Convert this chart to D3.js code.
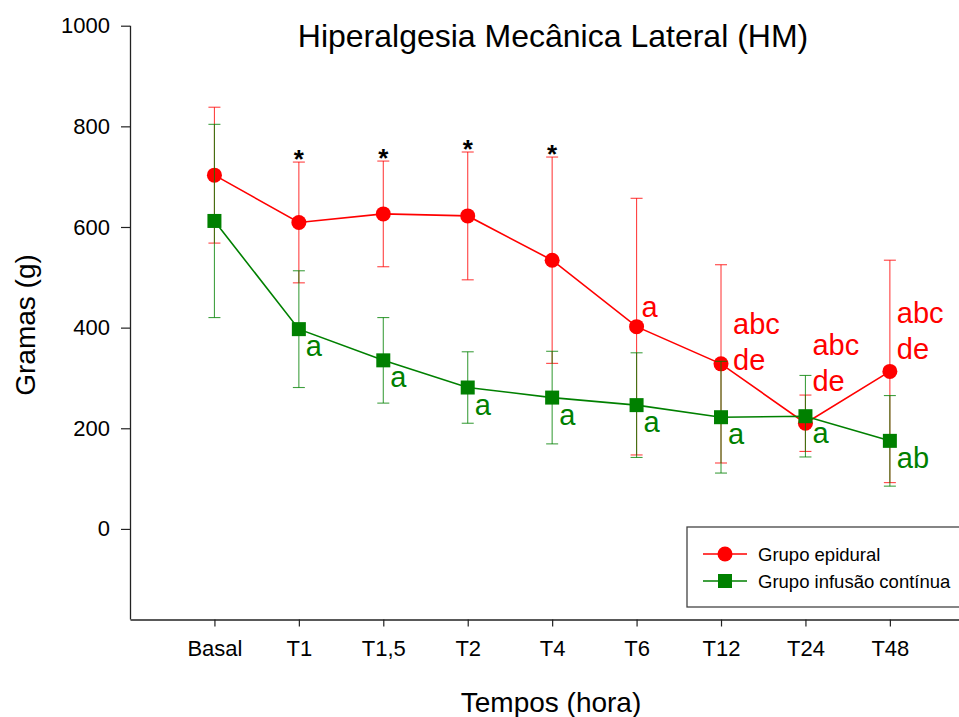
<!DOCTYPE html>
<html>
<head>
<meta charset="utf-8">
<script src="https://cdn.jsdelivr.net/npm/d3@7"></script>
<style>
  html, body { margin: 0; padding: 0; background: #fff; }
  svg { display: block; font-family: "Liberation Sans", Arial, sans-serif; }
</style>
</head>
<body>
<div id="chart"></div>
<script>
const categories = ["Basal", "T1", "T1,5", "T2", "T4", "T6", "T12", "T24", "T48"];
const epiduralMean = [703, 609, 626, 622, 534, 402, 328, 210, 313];
const epiduralSD = [135, 120, 105, 127, 205, 255, 197, 56, 221];
const infusaoMean = [612, 397, 335, 281, 261, 246, 222, 224, 175];
const infusaoSD = [192, 116, 85, 71, 92, 104, 111, 81, 90];
const starLabels = ["", "*", "*", "*", "*", "", "", "", ""];
const epiduralLetters = ["", "", "", "", "", ["a"], ["abc", "de"], ["abc", "de"], ["abc", "de"]];
const infusaoLetters = ["", "a", "a", "a", "a", "a", "a", "a", "ab"];
const yTicks = [0, 200, 400, 600, 800, 1000];

const width = 959;
const height = 717;
const marginLeft = 130;
const marginTop = 25.7;
const plotBottom = 619.5;
const step = 84.43;

const x = d3.scalePoint()
    .domain(categories)
    .range([marginLeft, marginLeft + step * (categories.length + 1)])
    .padding(1);

const y = d3.scaleLinear()
    .domain([-180, 1000])
    .range([plotBottom, marginTop]);

const svg = d3.select("#chart").append("svg")
    .attr("width", width)
    .attr("height", height)
    .attr("viewBox", [0, 0, width, height]);

// axes
svg.append("g")
    .attr("transform", `translate(${marginLeft},0)`)
    .call(d3.axisLeft(y).tickValues(yTicks).tickFormat(d3.format("d"))
        .tickSize(9).tickSizeOuter(0).tickPadding(11))
    .call(g => g.select(".domain").attr("stroke", "#222").attr("stroke-width", 1.3)
        .attr("d", `M0.5,${y(1000)}V${plotBottom}`))
    .call(g => g.selectAll(".tick line").attr("stroke", "#222").attr("stroke-width", 1.2))
    .call(g => g.selectAll(".tick text").attr("font-size", 22).attr("fill", "#000")
        .attr("font-family", "Liberation Sans, Arial, sans-serif"));

svg.append("g")
    .attr("transform", `translate(0,${plotBottom})`)
    .call(d3.axisBottom(x).tickSize(7).tickSizeOuter(0).tickPadding(14))
    .call(g => g.select(".domain").attr("stroke", "#222").attr("stroke-width", 1.3))
    .call(g => g.selectAll(".tick line").attr("stroke", "#222").attr("stroke-width", 1.2))
    .call(g => g.selectAll(".tick text").attr("font-size", 22).attr("fill", "#000")
        .attr("font-family", "Liberation Sans, Arial, sans-serif"));

// titles
svg.append("text")
    .attr("x", 553).attr("y", 47)
    .attr("text-anchor", "middle")
    .attr("font-size", 32)
    .text("Hiperalgesia Mecânica Lateral (HM)");

svg.append("text")
    .attr("x", 551).attr("y", 712)
    .attr("text-anchor", "middle")
    .attr("font-size", 28)
    .text("Tempos (hora)");

svg.append("text")
    .attr("transform", `translate(35,${325}) rotate(-90)`)
    .attr("text-anchor", "middle")
    .attr("font-size", 28)
    .text("Gramas (g)");

function drawSeries(means, sds, color, shape) {
    const data = categories.map((c, i) => ({ c, m: means[i], sd: sds[i] }));
    const g = svg.append("g");

    const eb = g.selectAll("g.eb").data(data).join("g")
        .attr("stroke", color)
        .attr("stroke-width", 1.1)
        .attr("stroke-opacity", 0.75);
    eb.append("line")
        .attr("x1", d => x(d.c)).attr("x2", d => x(d.c))
        .attr("y1", d => y(d.m + d.sd)).attr("y2", d => y(d.m - d.sd));
    eb.append("line")
        .attr("x1", d => x(d.c) - 6).attr("x2", d => x(d.c) + 6)
        .attr("y1", d => y(d.m + d.sd)).attr("y2", d => y(d.m + d.sd));
    eb.append("line")
        .attr("x1", d => x(d.c) - 6).attr("x2", d => x(d.c) + 6)
        .attr("y1", d => y(d.m - d.sd)).attr("y2", d => y(d.m - d.sd));

    g.append("path")
        .datum(data)
        .attr("fill", "none")
        .attr("stroke", color)
        .attr("stroke-width", 1.6)
        .attr("d", d3.line().x(d => x(d.c)).y(d => y(d.m)));

    if (shape === "circle") {
        g.selectAll("circle").data(data).join("circle")
            .attr("cx", d => x(d.c)).attr("cy", d => y(d.m))
            .attr("r", 7.5).attr("fill", color);
    } else {
        g.selectAll("rect").data(data).join("rect")
            .attr("x", d => x(d.c) - 7).attr("y", d => y(d.m) - 7)
            .attr("width", 14).attr("height", 14).attr("fill", color);
    }
    return data;
}

const red = "#ff0000";
const green = "#008000";
drawSeries(epiduralMean, epiduralSD, red, "circle");
drawSeries(infusaoMean, infusaoSD, green, "square");

// significance stars
svg.append("g").selectAll("text")
    .data(categories.map((c, i) => ({ c, t: starLabels[i], v: epiduralMean[i] + epiduralSD[i] })))
    .join("text")
    .attr("x", d => x(d.c))
    .attr("y", d => y(d.v) + 6)
    .attr("text-anchor", "middle")
    .attr("font-size", 26)
    .attr("font-weight", "bold")
    .text(d => d.t);

// red letters
const redOffsets = [null, null, null, null, null, [5, -10], [12, -30], [7, -68], [7, -48]];
const redLab = svg.append("g").attr("fill", red).attr("font-size", 29);
categories.forEach((c, i) => {
    const lines = epiduralLetters[i];
    if (!lines) return;
    const t = redLab.append("text")
        .attr("x", x(c) + redOffsets[i][0])
        .attr("y", y(epiduralMean[i]) + redOffsets[i][1]);
    lines.forEach((s, k) => t.append("tspan")
        .attr("x", x(c) + redOffsets[i][0])
        .attr("dy", k === 0 ? 0 : 36)
        .text(s));
});

// green letters
svg.append("g").attr("fill", green).attr("font-size", 29)
    .selectAll("text")
    .data(categories.map((c, i) => ({ c, t: infusaoLetters[i], m: infusaoMean[i] })))
    .join("text")
    .attr("x", d => x(d.c) + 7)
    .attr("y", d => y(d.m) + 27)
    .text(d => d.t);

// legend
const legend = svg.append("g");
legend.append("rect")
    .attr("x", 687).attr("y", 527)
    .attr("width", 290).attr("height", 80)
    .attr("fill", "#fff").attr("stroke", "#444").attr("stroke-width", 1.3);
const legendItems = [
    { name: "Grupo epidural", color: red, shape: "circle" },
    { name: "Grupo infusão contínua", color: green, shape: "square" }
];
legendItems.forEach((d, i) => {
    const ly = 554 + i * 27;
    legend.append("line")
        .attr("x1", 703).attr("x2", 747).attr("y1", ly).attr("y2", ly)
        .attr("stroke", d.color).attr("stroke-width", 1.6);
    if (d.shape === "circle") {
        legend.append("circle").attr("cx", 725).attr("cy", ly).attr("r", 7.5).attr("fill", d.color);
    } else {
        legend.append("rect").attr("x", 718).attr("y", ly - 7).attr("width", 14).attr("height", 14).attr("fill", d.color);
    }
    legend.append("text")
        .attr("x", 758).attr("y", ly + 7)
        .attr("font-size", 18.5)
        .text(d.name);
});
</script>
</body>
</html>
